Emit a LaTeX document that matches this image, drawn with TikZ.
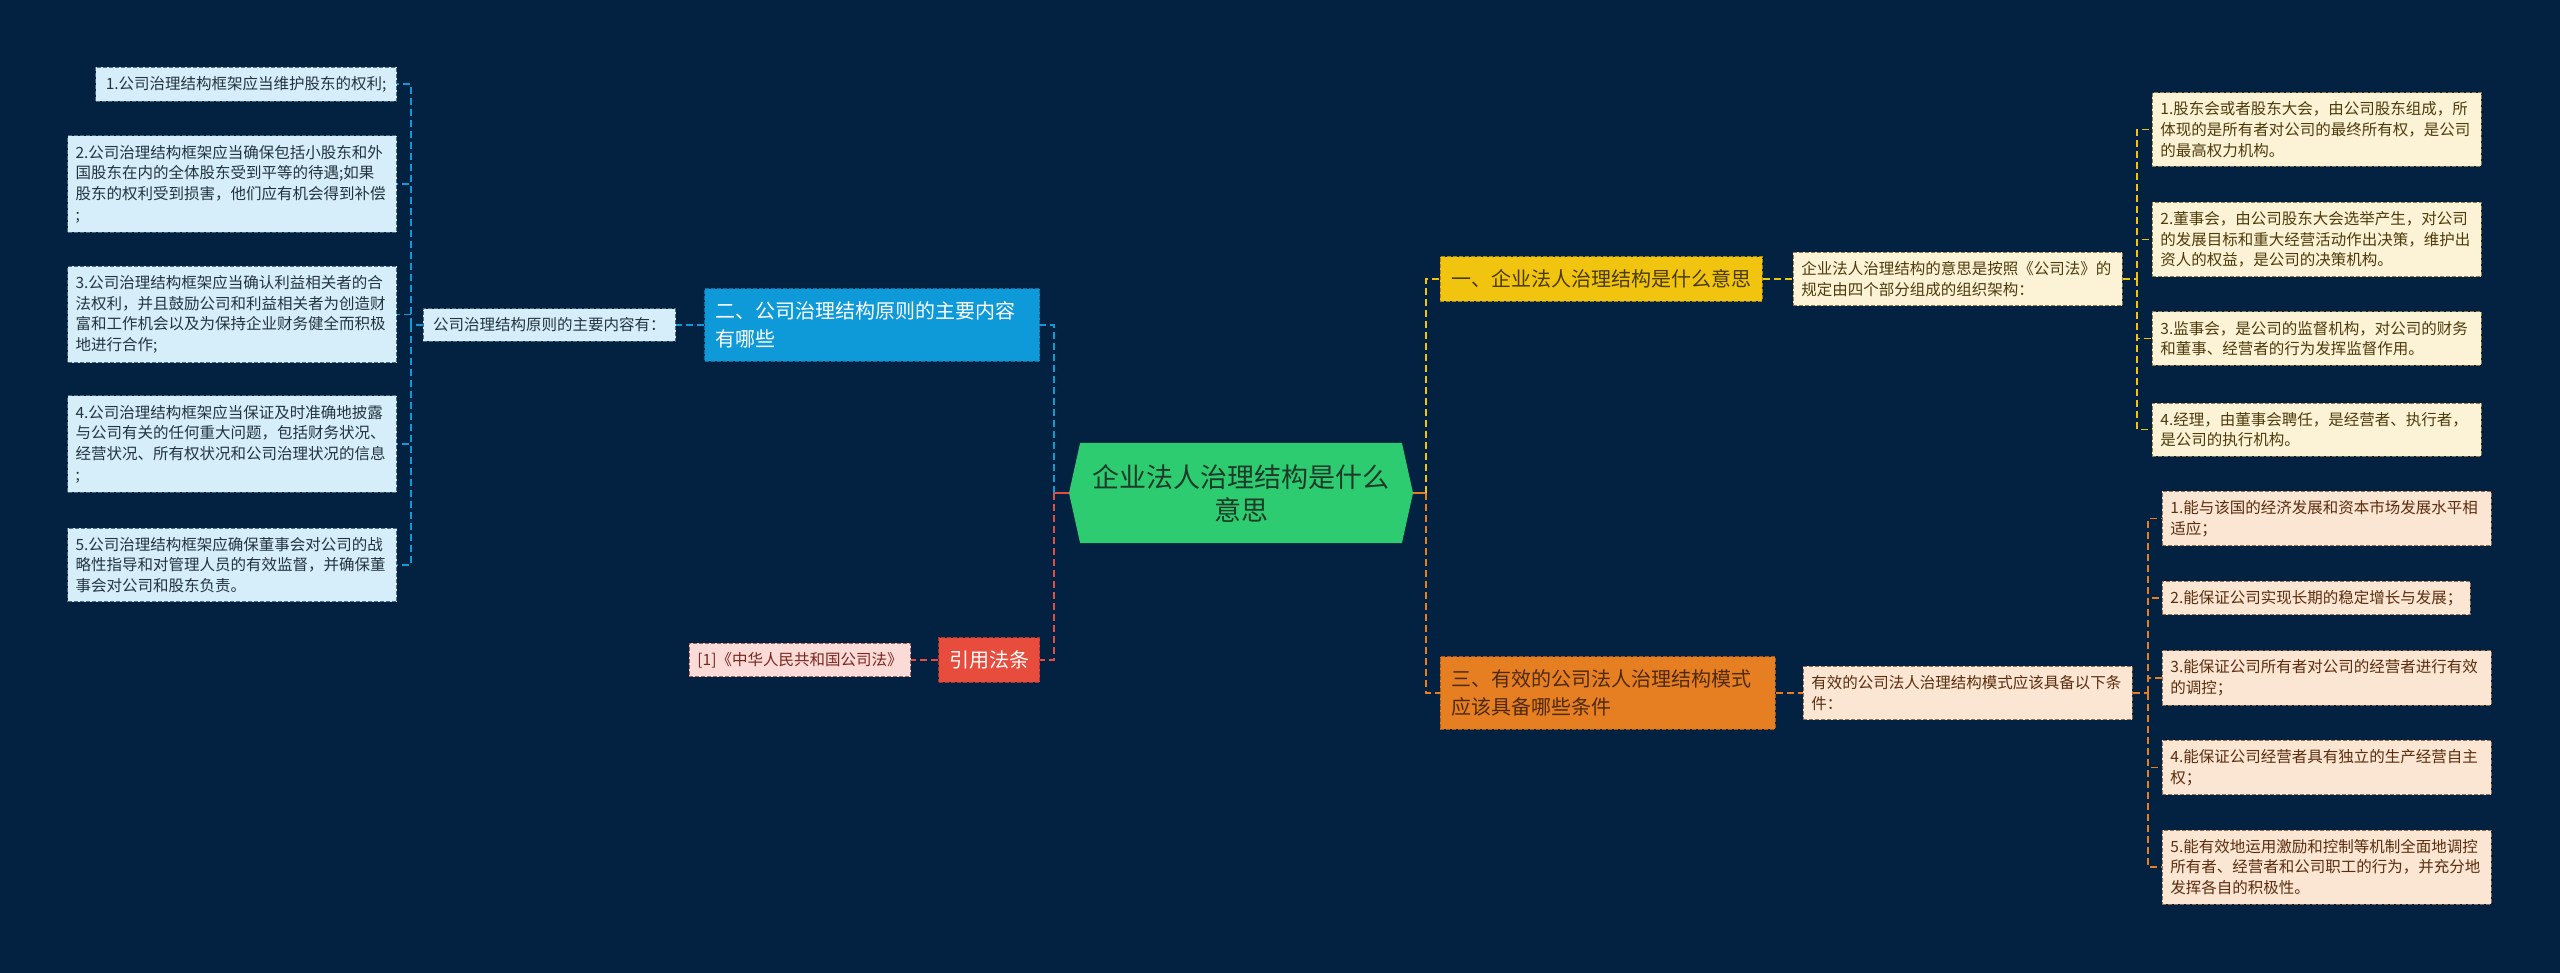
\documentclass[tikz,border=0pt]{standalone}
\usepackage{fontspec}
\setmainfont{Noto Sans CJK SC}
\usepackage{tikz}
\usetikzlibrary{positioning,shapes.symbols,calc}
\definecolor{bgNavy}{HTML}{032140}
\definecolor{hubGreen}{HTML}{2ECC71}
\definecolor{hubInk}{HTML}{1D3A28}
\definecolor{secBlue}{HTML}{0E9AD9}
\definecolor{secBlueEdge}{HTML}{0A6E9E}
\definecolor{leafBlue}{HTML}{D5EEF9}
\definecolor{leafBlueEdge}{HTML}{4A6A80}
\definecolor{leafBlueInk}{HTML}{23343F}
\definecolor{citeRed}{HTML}{E74C3C}
\definecolor{citeRedEdge}{HTML}{A8352A}
\definecolor{lawPink}{HTML}{FADBD8}
\definecolor{lawPinkEdge}{HTML}{9E5A55}
\definecolor{lawPinkInk}{HTML}{7B241C}
\definecolor{secYellow}{HTML}{F1C40F}
\definecolor{secYellowEdge}{HTML}{A88A10}
\definecolor{secYellowInk}{HTML}{4A3B05}
\definecolor{leafCream}{HTML}{FCF3D7}
\definecolor{leafCreamEdge}{HTML}{8A7A4A}
\definecolor{leafCreamInk}{HTML}{4D3B0A}
\definecolor{secOrange}{HTML}{E67E22}
\definecolor{secOrangeEdge}{HTML}{A35A18}
\definecolor{secOrangeInk}{HTML}{4E2A0B}
\definecolor{leafPeach}{HTML}{FBE5D3}
\definecolor{leafPeachEdge}{HTML}{8F6B50}
\definecolor{leafPeachInk}{HTML}{5A2E0E}

\begin{document}
\begin{tikzpicture}[x=1pt,y=-1pt,
  leaf/.style={draw,dash pattern=on 4pt off 2pt,line width=0.9pt,inner xsep=8pt,inner ysep=9pt,
    align=left,font=\fontsize{15.5}{20.7}\selectfont},
  wide/.style={text width=313pt},
  blueLeaf/.style={leaf,fill=leafBlue,draw=leafBlueEdge,text=leafBlueInk},
  pinkLeaf/.style={leaf,fill=lawPink,draw=lawPinkEdge,text=lawPinkInk},
  creamLeaf/.style={leaf,fill=leafCream,draw=leafCreamEdge,text=leafCreamInk},
  peachLeaf/.style={leaf,fill=leafPeach,draw=leafPeachEdge,text=leafPeachInk},
  topic/.style={draw,dash pattern=on 4pt off 2pt,line width=0.9pt,inner xsep=11pt,inner ysep=13pt,
    align=left,font=\fontsize{20}{28}\selectfont},
  hub/.style={signal,signal to=west and east,signal pointer angle=155,fill=hubGreen,
    minimum width=344pt,minimum height=100pt,align=center,text=hubInk,
    font=\fontsize{27}{33}\selectfont},
  link/.style={dash pattern=on 7pt off 4pt,line width=1.5pt},
  blueLink/.style={link,draw=secBlue},
  redLink/.style={link,draw=citeRed},
  yellowLink/.style={link,draw=secYellow},
  orangeLink/.style={link,draw=secOrange}]

\fill[bgNavy] (0,0) rectangle (2560,973);

\node[hub] (hub) at (1241,493) {企业法人治理结构是什么\\意思};
\coordinate (hubL) at (1054,493);
\coordinate (hubR) at (1426,493);

\node[topic,anchor=east,wide,fill=secBlue,draw=secBlueEdge,text=white] (sec2) at (1040,325)
  {二、公司治理结构原则的主要内容\\有哪些};
\node[topic,anchor=east,fill=citeRed,draw=citeRedEdge,text=white,inner xsep=10.5pt] (cite) at (1040,660) {引用法条};
\node[topic,anchor=west,fill=secYellow,draw=secYellowEdge,text=secYellowInk] (sec1) at (1440,279)
  {一、企业法人治理结构是什么意思};
\node[topic,anchor=west,wide,fill=secOrange,draw=secOrangeEdge,text=secOrangeInk] (sec3) at (1440,693)
  {三、有效的公司法人治理结构模式\\应该具备哪些条件};

\node[blueLeaf,anchor=east,inner xsep=10pt] (sum2) at (676,325) {公司治理结构原则的主要内容有：};
\node[pinkLeaf,anchor=east] (law) at (911,660) {[1]《中华人民共和国公司法》};
\node[creamLeaf,anchor=west,wide] (sum1) at (1793,279)
  {企业法人治理结构的意思是按照《公司法》的\\规定由四个部分组成的组织架构：};
\node[peachLeaf,anchor=west,wide] (sum3) at (1803,693)
  {有效的公司法人治理结构模式应该具备以下条\\件：};

\node[blueLeaf,anchor=east,inner xsep=10pt] (pL1) at (397,84) {1.公司治理结构框架应当维护股东的权利;};
\node[blueLeaf,anchor=east,wide] (pL2) at (397,184)
  {2.公司治理结构框架应当确保包括小股东和外\\国股东在内的全体股东受到平等的待遇;如果\\股东的权利受到损害，他们应有机会得到补偿\\;};
\node[blueLeaf,anchor=east,wide] (pL3) at (397,314.5)
  {3.公司治理结构框架应当确认利益相关者的合\\法权利，并且鼓励公司和利益相关者为创造财\\富和工作机会以及为保持企业财务健全而积极\\地进行合作;};
\node[blueLeaf,anchor=east,wide] (pL4) at (397,444)
  {4.公司治理结构框架应当保证及时准确地披露\\与公司有关的任何重大问题，包括财务状况、\\经营状况、所有权状况和公司治理状况的信息\\;};
\node[blueLeaf,anchor=east,wide] (pL5) at (397,565)
  {5.公司治理结构框架应确保董事会对公司的战\\略性指导和对管理人员的有效监督，并确保董\\事会对公司和股东负责。};

\node[creamLeaf,anchor=west,wide] (pR1) at (2152,129.5)
  {1.股东会或者股东大会，由公司股东组成，所\\体现的是所有者对公司的最终所有权，是公司\\的最高权力机构。};
\node[creamLeaf,anchor=west,wide] (pR2) at (2152,239.5)
  {2.董事会，由公司股东大会选举产生，对公司\\的发展目标和重大经营活动作出决策，维护出\\资人的权益，是公司的决策机构。};
\node[creamLeaf,anchor=west,wide] (pR3) at (2152,338.5)
  {3.监事会，是公司的监督机构，对公司的财务\\和董事、经营者的行为发挥监督作用。};
\node[creamLeaf,anchor=west,wide] (pR4) at (2152,429.5)
  {4.经理，由董事会聘任，是经营者、执行者，\\是公司的执行机构。};

\node[peachLeaf,anchor=west,wide] (cR1) at (2162,518.5)
  {1.能与该国的经济发展和资本市场发展水平相\\适应；};
\node[peachLeaf,anchor=west] (cR2) at (2162,598) {2.能保证公司实现长期的稳定增长与发展；};
\node[peachLeaf,anchor=west,wide] (cR3) at (2162,678)
  {3.能保证公司所有者对公司的经营者进行有效\\的调控；};
\node[peachLeaf,anchor=west,wide] (cR4) at (2162,767.5)
  {4.能保证公司经营者具有独立的生产经营自主\\权；};
\node[peachLeaf,anchor=west,wide] (cR5) at (2162,867)
  {5.能有效地运用激励和控制等机制全面地调控\\所有者、经营者和公司职工的行为，并充分地\\发挥各自的积极性。};

\draw[citeRed,line width=1.5pt] (hub.west) -- (hubL);
\draw[blueLink] (hubL) |- (sec2.east);
\draw[redLink] (hubL) |- (cite.east);
\draw[secOrange,line width=1.5pt] (hub.east) -- (hubR);
\draw[yellowLink] (hubR) |- (sec1.west);
\draw[orangeLink] (hubR) |- (sec3.west);

\draw[blueLink] (sec2.west) -- (sum2.east);
\draw[redLink] (cite.west) -- (law.east);
\draw[yellowLink] (sec1.east) -- (sum1.west);
\draw[orangeLink] (sec3.east) -- (sum3.west);

\coordinate (barL) at (411,325);
\draw[blueLink] (sum2.west) -- (barL);
\foreach \i in {1,...,5} \draw[blueLink] (barL) |- (pL\i.east);

\coordinate (barP) at (2137,279);
\draw[yellowLink] (sum1.east) -- (barP);
\foreach \i in {1,...,4} \draw[yellowLink] (barP) |- (pR\i.west);

\coordinate (barC) at (2148,693);
\draw[orangeLink] (sum3.east) -- (barC);
\foreach \i in {1,...,5} \draw[orangeLink] (barC) |- (cR\i.west);
\end{tikzpicture}
\end{document}
